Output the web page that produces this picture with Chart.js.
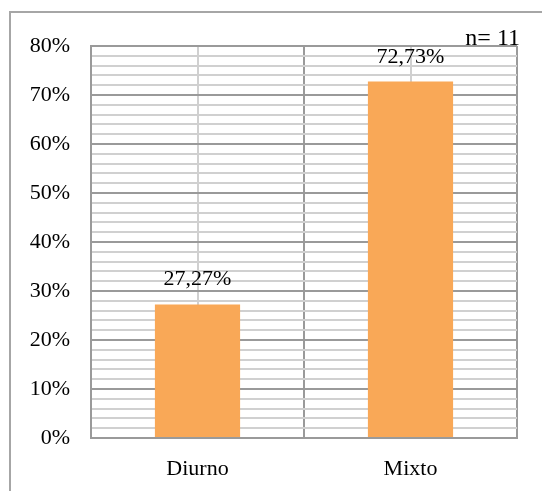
<!DOCTYPE html>
<html>
<head>
<meta charset="utf-8">
<script src="https://cdn.jsdelivr.net/npm/chart.js@4.4.1/dist/chart.umd.min.js"></script>
<style>
  body { margin: 0; background: #fff; }
  #wrap { position: relative; width: 542px; height: 491px; overflow: hidden; }
  #frame { position: absolute; left: 9px; top: 11px; width: 600px; height: 600px;
           border-left: 2px solid #a6a6a6; border-top: 2px solid #a6a6a6; }
  #chart { position: absolute; left: 0; top: 0; }
</style>
</head>
<body>
<div id="wrap">
  <div id="frame"></div>
  <canvas id="chart" width="542" height="491"></canvas>
</div>
<script>
// categorias y valores (%)
var categories = ['Diurno', 'Mixto'];
var values = [27.27, 72.73];
var yMax = 80;
var yStep = 2;
var sampleNote = 'n= 11';

var fontFamily = '"Liberation Serif", "DejaVu Serif", serif';

// etiquetas encima de cada barra, con coma decimal
var barLabels = {
  id: 'barLabels',
  afterDatasetsDraw: function(chart) {
    var ctx = chart.ctx;
    var meta = chart.getDatasetMeta(0);
    ctx.save();
    ctx.font = '22px ' + fontFamily;
    ctx.fillStyle = '#000';
    ctx.textAlign = 'center';
    ctx.textBaseline = 'alphabetic';
    meta.data.forEach(function(bar, i) {
      var txt = values[i].toFixed(2).replace('.', ',') + '%';
      ctx.fillText(txt, bar.x, bar.y - 19);
    });
    // n= 11 arriba a la derecha
    ctx.font = '24px ' + fontFamily;
    ctx.textAlign = 'right';
    ctx.fillText(sampleNote, chart.chartArea.right + 3, chart.chartArea.top - 1);
    ctx.restore();
  }
};

var ctx = document.getElementById('chart').getContext('2d');
var myChart = new Chart(ctx, {
  type: 'bar',
  data: {
    labels: categories,
    datasets: [{
      data: values,
      backgroundColor: '#f9a857',
      categoryPercentage: 0.8,
      barPercentage: 0.5
    }]
  },
  options: {
    responsive: false,
    animation: false,
    layout: { padding: { top: 46, right: 25, left: 0, bottom: 0 } },
    plugins: {
      legend: { display: false },
      tooltip: { enabled: false }
    },
    scales: {
      x: {
        offset: true,
        grid: { offset: true, color: '#9a9a9a', lineWidth: 2, drawTicks: false },
        border: { color: '#9a9a9a', width: 2 },
        ticks: { color: '#000', padding: 18, font: { family: fontFamily, size: 22 } },
        afterFit: function(s) { s.height = 53; }
      },
      x2: {
        type: 'category',
        position: 'top',
        offset: true,
        grid: { offset: false, color: '#d0d0d0', lineWidth: 2, drawTicks: false },
        border: { display: false },
        ticks: { display: false },
        afterFit: function(s) { s.height = 0; }
      },
      y: {
        min: 0,
        max: yMax,
        grid: {
          drawTicks: false,
          lineWidth: 2,
          color: function(c) {
            return (c.tick && c.tick.value % 10 === 0) ? '#9a9a9a' : '#d0d0d0';
          }
        },
        border: { color: '#9a9a9a', width: 2 },
        ticks: {
          stepSize: yStep,
          autoSkip: false,
          padding: 21,
          color: '#000',
          font: { family: fontFamily, size: 22 },
          callback: function(v) { return v % 10 === 0 ? v + '%' : ''; }
        },
        afterFit: function(s) { s.width = 91; }
      }
    }
  },
  plugins: [barLabels]
});
</script>
</body>
</html>
